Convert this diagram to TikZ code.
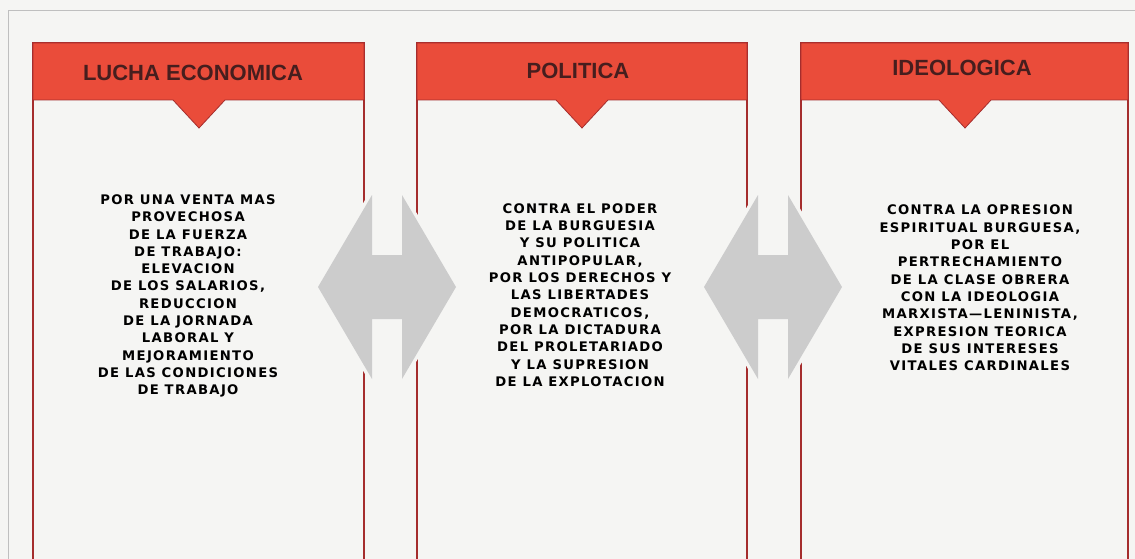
\documentclass[tikz,border=0pt]{standalone}
\usepackage{fontspec}
\setmainfont{DejaVu Sans}
\newfontfamily\headfont{Liberation Sans}
\newfontfamily\bodyfont[LetterSpace=10]{DejaVu Sans}
\definecolor{headred}{RGB}{234,76,58}
\definecolor{linered}{RGB}{165,45,45}
\definecolor{headink}{RGB}{70,30,30}
\definecolor{linkgray}{RGB}{204,204,204}
\definecolor{paper}{RGB}{245,245,243}
\newcommand{\headshape}[3]% left, right, tip x
{(#1,43) -- (#2,43) -- (#2,100) -- (#3+26,100) -- (#3,128) -- (#3-26,100) -- (#1,100) -- cycle
}
\newcommand{\linkshape}[2]% center x, center y
{(#1-69,#2) -- (#1-15,#2-92) -- (#1-15,#2-32) -- (#1+15,#2-32) -- (#1+15,#2-92)
 -- (#1+69,#2) -- (#1+15,#2+92) -- (#1+15,#2+32) -- (#1-15,#2+32) -- (#1-15,#2+92) -- cycle
}
\tikzset{
  colline/.style={draw=linered, line width=1.6pt},
  headtext/.style={text=headink, font=\headfont\bfseries\fontsize{22}{24}\selectfont},
  bodytext/.style={align=center, text=black, font=\bodyfont\bfseries\fontsize{13.2}{17.3}\selectfont}
}

\begin{document}
\begin{tikzpicture}[x=1pt, y=-1pt]
	\useasboundingbox (0,0) rectangle (1135,559);
	\fill[paper] (0,0) rectangle (1135,559);
	\draw[black!25, line width=1pt] (8,559) -- (8,11) -- (1135,11);
	% columns
	\draw[colline] (33,559) -- (33,43) -- (364,43) -- (364,559);
	\draw[colline] (417,559) -- (417,43) -- (747,43) -- (747,559);
	\draw[colline] (801,559) -- (801,43) -- (1128,43) -- (1128,559);
	\fill[headred, draw=linered, line width=0.8pt] \headshape{33}{364}{199};
	\fill[headred, draw=linered, line width=0.8pt] \headshape{417}{747}{582};
	\fill[headred, draw=linered, line width=0.8pt] \headshape{801}{1128}{965};
	\node[headtext] (econ) at (193,73) {LUCHA ECONOMICA};
	\node[headtext] (poli) at (578,71) {POLITICA};
	\node[headtext] (ideo) at (962,68) {IDEOLOGICA};
	% links between columns
	\draw[paper, line width=7pt] \linkshape{387}{287};
	\fill[linkgray] \linkshape{387}{287};
	\draw[paper, line width=7pt] \linkshape{773}{287};
	\fill[linkgray] \linkshape{773}{287};
	% texts
	\node[bodytext] (econtxt) at (188,296) {POR UNA VENTA MAS\\PROVECHOSA\\DE LA FUERZA\\DE TRABAJO:\\ELEVACION\\DE LOS SALARIOS,\\REDUCCION\\DE LA JORNADA\\LABORAL Y\\MEJORAMIENTO\\DE LAS CONDICIONES\\DE TRABAJO};
	\node[bodytext] (politxt) at (580,295) {CONTRA EL PODER\\DE LA BURGUESIA\\Y SU POLITICA\\ANTIPOPULAR,\\POR LOS DERECHOS Y\\LAS LIBERTADES\\DEMOCRATICOS,\\POR LA DICTADURA\\DEL PROLETARIADO\\Y LA SUPRESION\\DE LA EXPLOTACION};
	\node[bodytext] (ideotxt) at (980,288) {CONTRA LA OPRESION\\ESPIRITUAL BURGUESA,\\POR EL\\PERTRECHAMIENTO\\DE LA CLASE OBRERA\\CON LA IDEOLOGIA\\MARXISTA—LENINISTA,\\EXPRESION TEORICA\\DE SUS INTERESES\\VITALES CARDINALES};
\end{tikzpicture}
\end{document}
